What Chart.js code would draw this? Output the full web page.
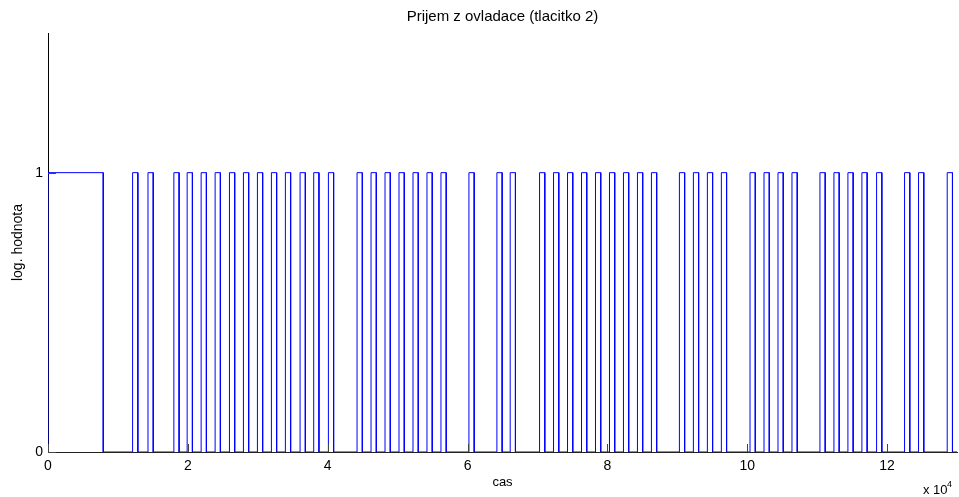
<!DOCTYPE html>
<html>
<head>
<meta charset="utf-8">
<script src="https://cdn.jsdelivr.net/npm/chart.js@4.4.0/dist/chart.umd.min.js"></script>
<style>
  html, body { margin: 0; padding: 0; background: #fff; }
  canvas { display: block; }
</style>
</head>
<body>
<canvas id="graf" width="959" height="497"></canvas>
<script>
// casy nabeznych a sestupnych hran (vzorky)
const riseTimes = [0, 12100, 14300, 18000, 19900, 21900, 23900, 25950, 27950, 29950, 31950, 33950, 36050, 38000, 40100,
  44200, 46200, 48200, 50200, 52200, 54200, 56200, 60200, 64200, 66100,
  70300, 72300, 74300, 76300, 78300, 80300, 82300, 84300, 86300,
  90300, 92300, 94300, 96300, 100400, 102400, 104400, 106400,
  110400, 112400, 114400, 116400, 118500, 122500, 124500, 128600];
const fallTimes = [7900, 12850, 15050, 18750, 20650, 22650, 24650, 26700, 28700, 30700, 32700, 34700, 36800, 38750, 40850,
  44950, 46950, 48950, 50950, 52950, 54950, 56950, 60950, 64950, 66850,
  71050, 73050, 75050, 77050, 79050, 81050, 83050, 85050, 87050,
  91050, 93050, 95050, 97050, 101150, 103150, 105150, 107150,
  111150, 113150, 115150, 117150, 119250, 123250, 125250, 129350];
const xTicks = [0, 20000, 40000, 60000, 80000, 100000, 120000];
const yTicks = [0, 1];
const xMax = 130000;
const yMax = 1.5;

let signal = [];
for (let i = 0; i < riseTimes.length; i++) {
  signal.push({x: riseTimes[i], y: 0}, {x: riseTimes[i], y: 1});
  signal.push({x: fallTimes[i], y: 1}, {x: fallTimes[i], y: 0});
}
signal.push({x: xMax, y: 0});

const font = 'Liberation Sans, Arial, Helvetica, sans-serif';
Chart.defaults.font.family = font;
Chart.defaults.color = '#000';

// vnitrni znacky os a popisek "x 10^4"
const matlabAxes = {
  id: 'matlabAxes',
  afterDraw(chart) {
    const ctx = chart.ctx;
    const xs = chart.scales.x, ys = chart.scales.y;
    const a = chart.chartArea;
    ctx.save();
    ctx.strokeStyle = '#444';
    ctx.lineWidth = 1;
    ctx.beginPath();
    xs.ticks.forEach(t => {
      const px = Math.round(xs.getPixelForValue(t.value)) + 0.5;
      ctx.moveTo(px, a.bottom);
      ctx.lineTo(px, a.bottom - 8);
    });
    ys.ticks.forEach(t => {
      const py = Math.round(ys.getPixelForValue(t.value)) + 0.5;
      ctx.moveTo(a.left, py);
      ctx.lineTo(a.left + 8, py);
    });
    ctx.stroke();
    ctx.fillStyle = '#000';
    ctx.textBaseline = 'alphabetic';
    ctx.textAlign = 'left';
    ctx.font = '13px ' + font;
    ctx.fillText('x 10', a.right - 34, 494);
    ctx.font = '9px ' + font;
    ctx.fillText('4', a.right - 10, 487);
    ctx.restore();
  }
};

new Chart(document.getElementById('graf'), {
  type: 'line',
  data: {
    datasets: [{
      data: signal,
      borderColor: '#0000ff',
      borderWidth: 1,
      pointRadius: 0,
      fill: false,
      tension: 0
    }]
  },
  options: {
    responsive: false,
    animation: false,
    parsing: false,
    layout: { padding: { left: 0, right: 2, top: 0, bottom: 0 } },
    plugins: {
      legend: { display: false },
      tooltip: { enabled: false },
      title: {
        display: true,
        fullSize: false,
        text: 'Prijem z ovladace (tlacitko 2)',
        font: { size: 15, weight: 'normal' },
        color: '#000',
        padding: { top: 8, bottom: 7 }
      }
    },
    scales: {
      x: {
        type: 'linear',
        min: 0,
        max: xMax,
        afterBuildTicks: s => { s.ticks = xTicks.map(v => ({value: v})); },
        afterFit: s => { s.height = 45; },
        ticks: {
          callback: v => v / 10000,
          font: { size: 14 },
          padding: 6,
          maxRotation: 0,
          autoSkip: false
        },
        grid: { display: false, drawTicks: false },
        border: { color: '#222', width: 1 },
        title: { display: true, text: 'cas', font: { size: 13 }, padding: { top: 0, bottom: 7 } }
      },
      y: {
        min: 0,
        max: yMax,
        afterBuildTicks: s => { s.ticks = yTicks.map(v => ({value: v})); },
        afterFit: s => { s.width = 48; },
        ticks: {
          font: { size: 14 },
          padding: 5
        },
        grid: { display: false, drawTicks: false },
        border: { color: '#000', width: 1 },
        title: { display: true, text: 'log. hodnota', font: { size: 14 }, padding: { top: 10, bottom: 0 } }
      }
    }
  },
  plugins: [matlabAxes]
});
</script>
</body>
</html>
